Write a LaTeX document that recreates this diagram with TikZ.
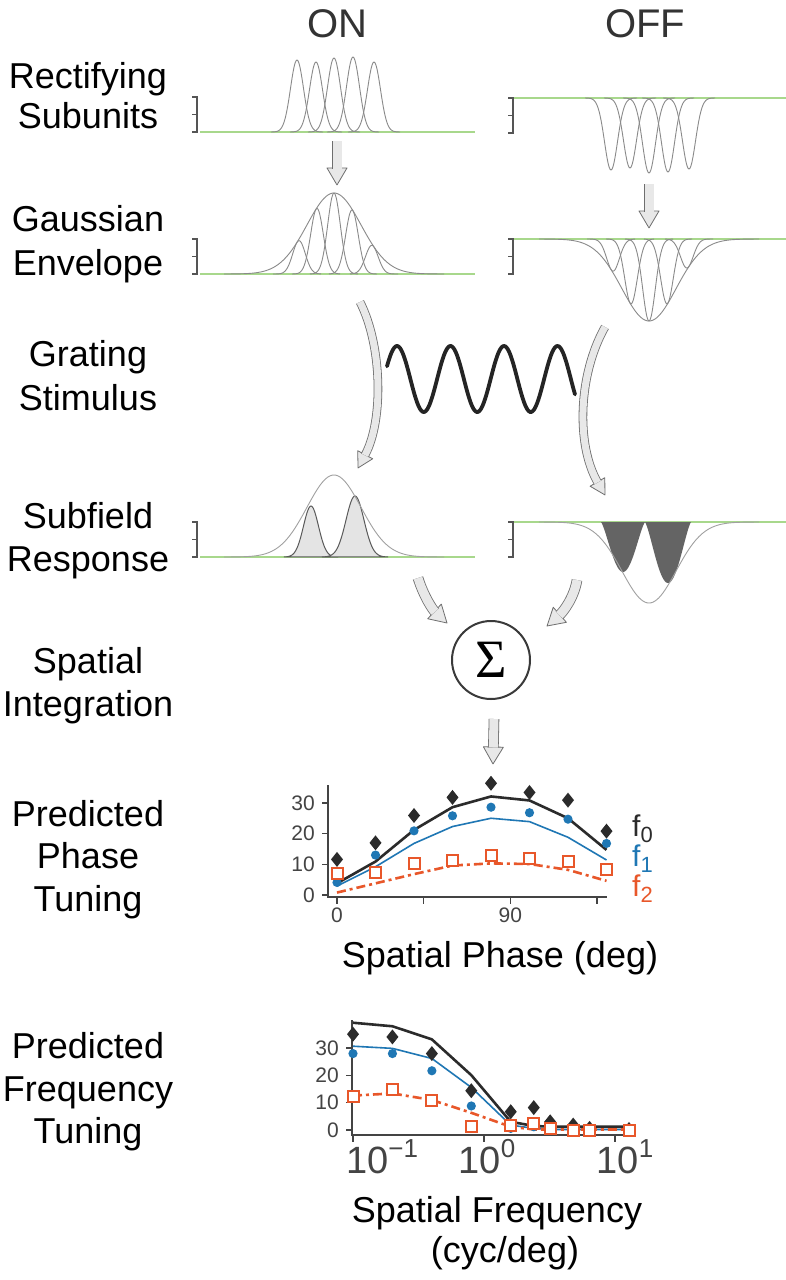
\documentclass[tikz,border=0pt]{standalone}
\usepackage{fontspec}
\setmainfont{Liberation Sans}
\newfontfamily\sigmafont{Liberation Serif}
\usetikzlibrary{decorations.markings}
\definecolor{grn}{HTML}{A8D88C}
\definecolor{curvegray}{HTML}{8A8A8A}
\definecolor{brkgray}{HTML}{555555}
\definecolor{arrfill}{HTML}{E8E8E8}
\definecolor{arrline}{HTML}{6E6E6E}
\definecolor{ttlgray}{HTML}{333333}
\definecolor{axgray}{HTML}{444444}
\definecolor{pblue}{HTML}{1F77B4}
\definecolor{porange}{HTML}{E8572A}
\definecolor{pblack}{HTML}{2B2B2B}
\definecolor{onfill}{HTML}{E4E4E4}
\definecolor{onedge}{HTML}{5A5A5A}
\definecolor{offfill}{HTML}{646464}
\definecolor{sumgray}{HTML}{3A3A3A}
\definecolor{gratecol}{HTML}{242424}
\tikzset{
 lab/.style={font=\fontsize{36}{43}\selectfont, anchor=base, inner sep=0pt, text=black},
 ttl/.style={font=\fontsize{40}{40}\selectfont, anchor=base, inner sep=0pt, text=ttlgray},
 basel/.style={draw=grn, line width=1.3pt},
 gcurve/.style={draw=curvegray, line width=0.9pt},
 brk/.style={draw=brkgray, line width=1.2pt},
 fathead/.style={decorate, decoration={markings, mark=at position 0.9995 with {\filldraw[fill=arrfill, draw=arrline, line width=0.8pt, line join=round] (-15pt,-8.5pt) -- (0pt,0pt) -- (-15pt,8.5pt) -- cycle;}}},
 fatshaft/.style={draw=arrline, double=arrfill, double distance=7pt, line width=0.8pt, shorten >=14.5pt},
 bighead/.style={decorate, decoration={markings, mark=at position 0.9995 with {\filldraw[fill=arrfill, draw=arrline, line width=0.8pt, line join=round] (-17pt,-10pt) -- (0pt,0pt) -- (-17pt,10pt) -- cycle;}}},
 bigshaft/.style={draw=arrline, double=arrfill, double distance=9pt, line width=0.8pt, shorten >=16.5pt},
 tickl/.style={font=\fontsize{21}{21}\selectfont, text=axgray, inner sep=0pt},
 bigtick/.style={font=\fontsize{38}{38}\selectfont, text=axgray, inner sep=0pt, anchor=base},
 axisl/.style={draw=axgray, line width=1.5pt},
 legl/.style={font=\fontsize{30}{30}\selectfont, inner sep=0pt, anchor=base west},
}
\newcommand{\fatarrow}[1]{\path[fathead] #1; \draw[fatshaft] #1;}
\newcommand{\bigarrow}[1]{\path[bighead] #1; \draw[bigshaft] #1;}
\newcommand{\bracketmark}[3]{\draw[brk] (#1-5,#2) -- (#1,#2) -- (#1,#3) -- (#1-5,#3); \draw[brk] (#1-5,{(#2+#3)/2}) -- (#1,{(#2+#3)/2});}
\newcommand{\subsc}[1]{\raisebox{-6pt}{\fontsize{22}{22}\selectfont #1}}
\newcommand{\supsc}[1]{\raisebox{16pt}{\fontsize{26}{26}\selectfont #1}}
\begin{document}
\begin{tikzpicture}[x=1pt,y=-1pt]
\useasboundingbox (0,0) rectangle (786,1280);
\fill[white] (0,0) rectangle (786,1280);

% ---------- left labels ----------
\node[lab] (l1a) at (88,88) {Rectifying};
\node[lab] (l1b) at (88,128) {Subunits};
\node[lab] (l2a) at (88,231) {Gaussian};
\node[lab] (l2b) at (88,275) {Envelope};
\node[lab] (l3a) at (88,366) {Grating};
\node[lab] (l3b) at (88,410) {Stimulus};
\node[lab] (l4a) at (88,528) {Subfield};
\node[lab] (l4b) at (88,571) {Response};
\node[lab] (l5a) at (88,673) {Spatial};
\node[lab] (l5b) at (88,716) {Integration};
\node[lab] (l6a) at (88,826) {Predicted};
\node[lab] (l6b) at (88,868) {Phase};
\node[lab] (l6c) at (88,911) {Tuning};
\node[lab] (l7a) at (88,1058) {Predicted};
\node[lab] (l7b) at (88,1101) {Frequency};
\node[lab] (l7c) at (88,1143) {Tuning};

% ---------- titles ----------
\node[ttl] (ton) at (337,37) {ON};
\node[ttl] (toff) at (645,37) {OFF};

% ---------- row 1: rectifying subunits ----------
\draw[basel] (200,132) -- (475,132);
\bracketmark{197}{97}{132}
\foreach \c/\a in {297/72,316/70,334/74,353/75,374/70}
  \draw[gcurve] plot[domain=-26:26, samples=53, smooth] ({\c+\x},{132-\a*exp(-0.5*(\x/6.5)^2)});
\draw[basel] (514,98) -- (786,98);
\bracketmark{513}{98}{133}
\foreach \c/\a in {611/72,630/70,649/75,668/74,689/71}
  \draw[gcurve] plot[domain=-26:26, samples=53, smooth] ({\c+\x},{98+\a*exp(-0.5*(\x/6.5)^2)});

% ---------- row 2: gaussian envelope ----------
\draw[basel] (200,274) -- (475,274);
\bracketmark{197}{239}{274}
\draw[gcurve] plot[domain=-110:110, samples=111, smooth] ({334+\x},{274-81*exp(-0.5*(\x/27)^2)});
\foreach \c in {297,316,334,353,374}
  \draw[gcurve] plot[domain=-24:24, samples=49, smooth] ({\c+\x},{274-81*exp(-0.5*((\c+\x-334)/27)^2-0.5*(\x/6.5)^2)});
\draw[basel] (514,239) -- (786,239);
\bracketmark{513}{239}{274}
\draw[gcurve] plot[domain=-110:110, samples=111, smooth] ({649+\x},{239+82*exp(-0.5*(\x/27)^2)});
\foreach \c in {611,630,649,668,689}
  \draw[gcurve] plot[domain=-24:24, samples=49, smooth] ({\c+\x},{239+82*exp(-0.5*((\c+\x-649)/27)^2-0.5*(\x/6.5)^2)});

% ---------- grating ----------
\draw[gratecol, line width=3.8pt, line cap=round] plot[domain=387:575, samples=160, smooth] (\x,{379-33*sin((\x-397)*6.729+90)});

% ---------- row 4: subfield response ----------
\draw[basel] (200,557) -- (475,557);
\bracketmark{197}{522}{557}
\filldraw[fill=onfill, draw=onedge, line width=1pt] plot[domain=-27:27, samples=55, smooth] ({311+\x},{557-51*exp(-0.5*(\x/7.5)^2)}) -- cycle;
\filldraw[fill=onfill, draw=onedge, line width=1pt] plot[domain=-33:33, samples=67, smooth] ({355+\x},{557-61*exp(-0.5*(\x/9)^2)}) -- cycle;
\draw[gcurve, draw=curvegray!80] plot[domain=-110:110, samples=111, smooth] ({334+\x},{557-82*exp(-0.5*(\x/27)^2)});
\draw[basel] (514,522) -- (786,522);
\bracketmark{513}{522}{557}
\fill[offfill] plot[domain=601:645, samples=45, smooth] (\x,{522+50*abs(sin((\x-601)*4.0909))^1.3}) -- cycle;
\fill[offfill] plot[domain=645:691, samples=47, smooth] (\x,{522+61*abs(sin((\x-645)*3.9130))^1.3}) -- cycle;
\draw[gcurve, draw=curvegray!80] plot[domain=-110:110, samples=111, smooth] ({649+\x},{522+81*exp(-0.5*(\x/27)^2)});

% ---------- summation ----------
\node[circle, draw=sumgray, line width=2pt, minimum size=78pt, inner sep=0pt] (sum) at (491,660) {\sigmafont\fontsize{54}{54}\selectfont Σ};

% ---------- fat arrows ----------
\coordinate (a1s) at (337,141); \coordinate (a1e) at (337,185);
\coordinate (a2s) at (649,184); \coordinate (a2e) at (649,228);
\coordinate (a3s) at (360,302); \coordinate (a3e) at (358,468);
\coordinate (a4s) at (605,327); \coordinate (a4e) at (605,495);
\coordinate (a5s) at (418,578); \coordinate (a5e) at (447,623);
\coordinate (a6s) at (577,580); \coordinate (a6e) at (547,626);
\coordinate (a7s) at (494,719); \coordinate (a7e) at (493,764);
\bigarrow{(a1s) -- (a1e)}
\bigarrow{(a2s) -- (a2e)}
\fatarrow{(a3s) .. controls (382,345) and (384,420) .. (a3e)}
\fatarrow{(a4s) .. controls (578,375) and (576,445) .. (a4e)}
\bigarrow{(a5s) .. controls (424,597) and (433,610) .. (a5e)}
\bigarrow{(a6s) .. controls (574,598) and (563,612) .. (a6e)}
\bigarrow{(a7s) -- (a7e)}

% ---------- phase tuning plot ----------
\draw[axisl] (328,785) -- (328,897) -- (607,897);
\foreach \v in {0,10,20,30} {
  \draw[axisl] (322,{895-3.07*\v}) -- (328,{895-3.07*\v});
  \node[tickl, anchor=east] (py\v) at (315,{895-3.07*\v}) {\v};
}
\foreach \xx in {337,423.6,510.3,597} \draw[axisl] (\xx,897) -- (\xx,904);
\node[tickl, anchor=north] (px0) at (337,908) {0};
\node[tickl, anchor=north] (px90) at (510.3,908) {90};
\begin{scope}[shift={(337,895)}, x=38.5pt, y=3.07pt]
\draw[pblack, line width=2.6pt, line join=round] plot coordinates {(0,3.8) (1,10.9) (2,21.2) (3,28.6) (4,32.1) (5,30.8) (6,25.0) (7,14.7)};
\draw[pblue, line width=1.6pt, line join=round] plot coordinates {(0,2.9) (1,9.2) (2,16.8) (3,22.3) (4,25.0) (5,23.9) (6,18.8) (7,11.4)};
\draw[porange, line width=2.6pt, dash pattern=on 9pt off 4pt on 3pt off 4pt] plot coordinates {(0,0.8) (1,3.8) (2,6.8) (3,9.6) (4,10.3) (5,10.1) (6,8.2) (7,4.6)};
\foreach \i/\v in {0/11.6,1/17.0,2/25.9,3/31.8,4/36.4,5/33.4,6/30.9,7/20.8}
  \fill[pblack] (\i,\v) ++(0pt,7.5pt) -- ++(6pt,-7.5pt) -- ++(-6pt,-7.5pt) -- ++(-6pt,7.5pt) -- cycle;
\foreach \i/\v in {0/4.1,1/13.0,2/20.9,3/25.8,4/28.6,5/26.8,6/24.7,7/16.8}
  \fill[pblue] (\i,\v) circle[radius=4.6pt];
\foreach \i/\v in {0/7.1,1/7.4,2/10.3,3/11.4,4/13.0,5/11.9,6/10.9,7/8.2}
  \draw[porange, line width=2pt, fill=white] (\i,\v) ++(-5.5pt,-5.5pt) rectangle ++(11pt,11pt);
\end{scope}
\node[legl, text=pblack] (lg0) at (632,836) {f\subsc{0}};
\node[legl, text=pblue] (lg1) at (632,866) {f\subsc{1}};
\node[legl, text=porange] (lg2) at (632,896) {f\subsc{2}};
\node[lab] (phx) at (500,967) {Spatial Phase (deg)};

% ---------- frequency tuning plot ----------
\draw[axisl] (352,1020) -- (352,1135) -- (633,1135);
\foreach \v in {0,10,20,30} {
  \draw[axisl] (346,{1130-2.73*\v}) -- (352,{1130-2.73*\v});
  \node[tickl, anchor=east] (fy\v) at (339,{1130-2.73*\v}) {\v};
}
\foreach \xx in {353,484,615} \draw[axisl] (\xx,1135) -- (\xx,1142);
\node[bigtick] (fxa) at (382,1173) {10\supsc{−1}};
\node[bigtick] (fxb) at (487,1173) {10\supsc{0}};
\node[bigtick] (fxc) at (625,1173) {10\supsc{1}};
\begin{scope}[shift={(484,1130)}, x=131pt, y=2.73pt]
\draw[pblack, line width=2.6pt, line join=round] plot coordinates {(-1,39.3) (-0.699,38.0) (-0.398,33.2) (-0.097,20.1) (0.204,3.0) (0.380,1.5) (0.505,1.2) (0.681,1.2) (0.806,1.2) (1.107,1.2)};
\draw[pblue, line width=1.6pt, line join=round] plot coordinates {(-1,30.7) (-0.699,29.9) (-0.398,26.2) (-0.097,15.6) (0.204,1.8) (0.380,0.6) (0.505,0.2) (0.681,0.2) (0.806,0.2) (1.107,0.2)};
\draw[porange, line width=2.6pt, dash pattern=on 9pt off 4pt on 3pt off 4pt] plot coordinates {(-1,12.6) (-0.699,13.4) (-0.398,11.0) (-0.097,6.3) (0.204,1.2) (0.380,0.2) (0.505,0.2) (0.681,0.2) (0.806,0.2) (1.107,0.2)};
\foreach \i/\v in {-1/35.1,-0.699/34.1,-0.398/28.0,-0.097/14.4,0.204/6.7,0.380/8.2,0.505/3.0,0.681/1.8,0.806/0.6,1.107/0.2}
  \fill[pblack] (\i,\v) ++(0pt,7.5pt) -- ++(6pt,-7.5pt) -- ++(-6pt,-7.5pt) -- ++(-6pt,7.5pt) -- cycle;
\foreach \i/\v in {-1/28.0,-0.699/28.0,-0.398/21.7,-0.097/8.8,0.204/0.6,0.380/1.2,0.505/1.0,0.681/0.2,0.806/0.2,1.107/0.2}
  \fill[pblue] (\i,\v) circle[radius=4.6pt];
\foreach \i/\v in {-1/12.4,-0.699/14.9,-0.398/10.7,-0.097/1.2,0.204/1.8,0.380/2.4,0.505/0.6,0.681/0.0,0.806/0.0,1.107/0.0}
  \draw[porange, line width=2pt, fill=white] (\i,\v) ++(-5.5pt,-5.5pt) rectangle ++(11pt,11pt);
\end{scope}
\node[lab] (fqx1) at (497,1222) {Spatial Frequency};
\node[lab] (fqx2) at (505,1262) {(cyc/deg)};
\end{tikzpicture}
\end{document}
